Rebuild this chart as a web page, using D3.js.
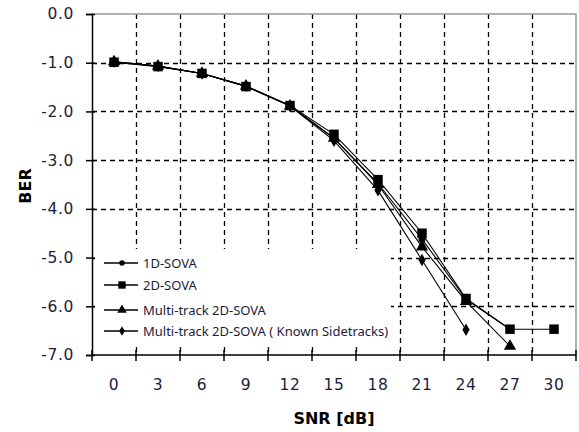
<!DOCTYPE html>
<html>
<head>
<meta charset="utf-8">
<script src="https://cdn.jsdelivr.net/npm/d3@7"></script>
</head>
<body style="margin:0">
<svg width="579" height="432"></svg>
<script>
// SNR categories (dB)
const snr = [0, 3, 6, 9, 12, 15, 18, 21, 24, 27, 30];
const berTicks = [0, -1, -2, -3, -4, -5, -6, -7];

// BER (log10) per series
const sova1D   = [-0.98, -1.07, -1.22, -1.48, -1.88, -2.55, -3.48, -4.62, -5.86, -6.47];
const sova2D   = [-0.99, -1.08, -1.22, -1.49, -1.88, -2.47, -3.40, -4.50, -5.84, -6.47, -6.47];
const multi2D  = [-0.98, -1.07, -1.22, -1.48, -1.89, -2.55, -3.50, -4.78, -5.90, -6.82];
const known2D  = [-0.98, -1.07, -1.22, -1.48, -1.89, -2.60, -3.62, -5.05, -6.48];

const seriesNames = ["1D-SOVA", "2D-SOVA", "Multi-track 2D-SOVA", "Multi-track 2D-SOVA ( Known Sidetracks)"];

const series = [
  {name: seriesNames[0], values: sova1D, symbol: d3.symbolCircle, size: 40},
  {name: seriesNames[1], values: sova2D, symbol: d3.symbolSquare, size: 90},
  {name: seriesNames[2], values: multi2D, symbol: d3.symbolTriangle, size: 65},
  {name: seriesNames[3], values: known2D, symbol: d3.symbolDiamond, size: 45}
];

const svg = d3.select('svg');

const plotL = 92, plotR = 576, plotT = 14, plotB = 355;
const textColor = '#1c1c3a';

const x = d3.scaleBand()
  .domain(snr)
  .range([plotL, plotR])
  .padding(0);

const y = d3.scaleLinear()
  .domain([-7, 0])
  .range([plotB, plotT]);

const cx = (i) => x(snr[i]) + x.bandwidth() / 2;

// dashed grid, dashes built as short segments
const dashOn = 5, dashOff = 4;
const hDash = (yy) => d3.range(plotL, plotR, dashOn + dashOff)
  .map(p => `M${p},${yy}H${Math.min(p + dashOn, plotR)}`).join('');
const vDash = (xx) => d3.range(plotT, plotB, dashOn + dashOff)
  .map(p => `M${xx},${p}V${Math.min(p + dashOn, plotB)}`).join('');

const grid = svg.append('g').attr('class', 'grid');

grid.selectAll('path.hg')
  .data(berTicks.filter(d => d > -7 && d < 0))
  .enter()
  .append('path')
  .attr('class', 'hg')
  .attr('d', d => hDash(Math.round(y(d)) + 0.5))
  .attr('fill', 'none')
  .attr('stroke', '#000')
  .attr('stroke-width', 1.3);

grid.selectAll('path.vg')
  .data(snr.slice(1))
  .enter()
  .append('path')
  .attr('class', 'vg')
  .attr('d', d => vDash(Math.round(x(d)) + 0.5))
  .attr('fill', 'none')
  .attr('stroke', '#000')
  .attr('stroke-width', 1.3);

// plot border (top / right)
svg.append('path')
  .attr('d', `M${plotL},${plotT}H${plotR}V${plotB}`)
  .attr('fill', 'none')
  .attr('stroke', '#999')
  .attr('stroke-width', 1.5);

// legend background hides the grid behind it
svg.append('rect')
  .attr('x', 95)
  .attr('y', 249)
  .attr('width', 296)
  .attr('height', 94)
  .attr('fill', '#fff');

// y axis
const yAxis = svg.append('g')
  .attr('transform', `translate(${plotL},0)`)
  .call(d3.axisLeft(y)
    .tickValues(berTicks)
    .tickFormat(d => d.toFixed(1))
    .tickSize(6)
    .tickPadding(12));
yAxis.select('.domain').attr('stroke', '#000').attr('stroke-width', 1.5);
yAxis.selectAll('.tick line').attr('x1', 3).attr('stroke-width', 1.5);
yAxis.selectAll('.tick text')
  .attr('font-size', 15.5)
  .attr('font-family', '"DejaVu Sans", sans-serif')
  .attr('letter-spacing', 0.6)
  .attr('fill', textColor);

// x axis: ticks at category boundaries, labels at centres
const xAxis = svg.append('g')
  .attr('transform', `translate(0,${plotB})`);
xAxis.append('line')
  .attr('x1', plotL).attr('x2', plotR)
  .attr('stroke', '#000').attr('stroke-width', 1.5);
xAxis.selectAll('line.xt')
  .data(snr.concat([null]))
  .enter()
  .append('line')
  .attr('class', 'xt')
  .attr('x1', (d, i) => i < snr.length ? x(d) : plotR)
  .attr('x2', (d, i) => i < snr.length ? x(d) : plotR)
  .attr('y1', -5)
  .attr('y2', 6)
  .attr('stroke', '#000')
  .attr('stroke-width', 1.5);
xAxis.selectAll('text.xl')
  .data(snr)
  .enter()
  .append('text')
  .attr('class', 'xl')
  .attr('x', (d, i) => cx(i))
  .attr('y', 35)
  .attr('text-anchor', 'middle')
  .attr('font-family', '"DejaVu Sans", sans-serif')
  .attr('font-size', 15.5)
  .attr('letter-spacing', 0.6)
  .attr('fill', textColor)
  .text(d => d);

// axis titles
svg.append('text')
  .attr('transform', `translate(31,186) rotate(-90)`)
  .attr('text-anchor', 'middle')
  .attr('font-family', '"DejaVu Sans", sans-serif')
  .attr('font-weight', 'bold')
  .attr('font-size', 16)
  .text('BER');

svg.append('text')
  .attr('x', (plotL + plotR) / 2)
  .attr('y', 424)
  .attr('text-anchor', 'middle')
  .attr('font-family', '"DejaVu Sans", sans-serif')
  .attr('font-weight', 'bold')
  .attr('font-size', 16)
  .text('SNR [dB]');

// series lines and markers
const lineGen = d3.line()
  .x((d, i) => cx(i))
  .y(d => y(d));

series.forEach(s => {
  const g = svg.append('g').attr('class', 'series');
  g.append('path')
    .attr('d', lineGen(s.values))
    .attr('fill', 'none')
    .attr('stroke', '#000')
    .attr('stroke-width', 1.1);
  g.selectAll('path.m')
    .data(s.values)
    .enter()
    .append('path')
    .attr('class', 'm')
    .attr('transform', (d, i) => `translate(${cx(i)},${y(d)})`)
    .attr('d', d3.symbol().type(s.symbol).size(s.size))
    .attr('fill', '#000');
});

// legend
const legend = svg.append('g')
  .attr('transform', 'translate(104,263)');
const rows = legend.selectAll('g')
  .data(series)
  .enter()
  .append('g')
  .attr('transform', (d, i) => `translate(0,${[0, 22, 47, 68][i]})`);
rows.append('line')
  .attr('x1', 0).attr('x2', 34)
  .attr('stroke', '#000').attr('stroke-width', 1.5);
rows.append('path')
  .attr('transform', 'translate(18,0)')
  .attr('d', d => d3.symbol().type(d.symbol).size(d.size * 0.6)())
  .attr('fill', '#000');
rows.append('text')
  .attr('x', 39)
  .attr('y', 4.5)
  .attr('font-family', '"Noto Sans", sans-serif')
  .attr('font-size', 13)
  .attr('fill', textColor)
  .text(d => d.name);
</script>
</body>
</html>
